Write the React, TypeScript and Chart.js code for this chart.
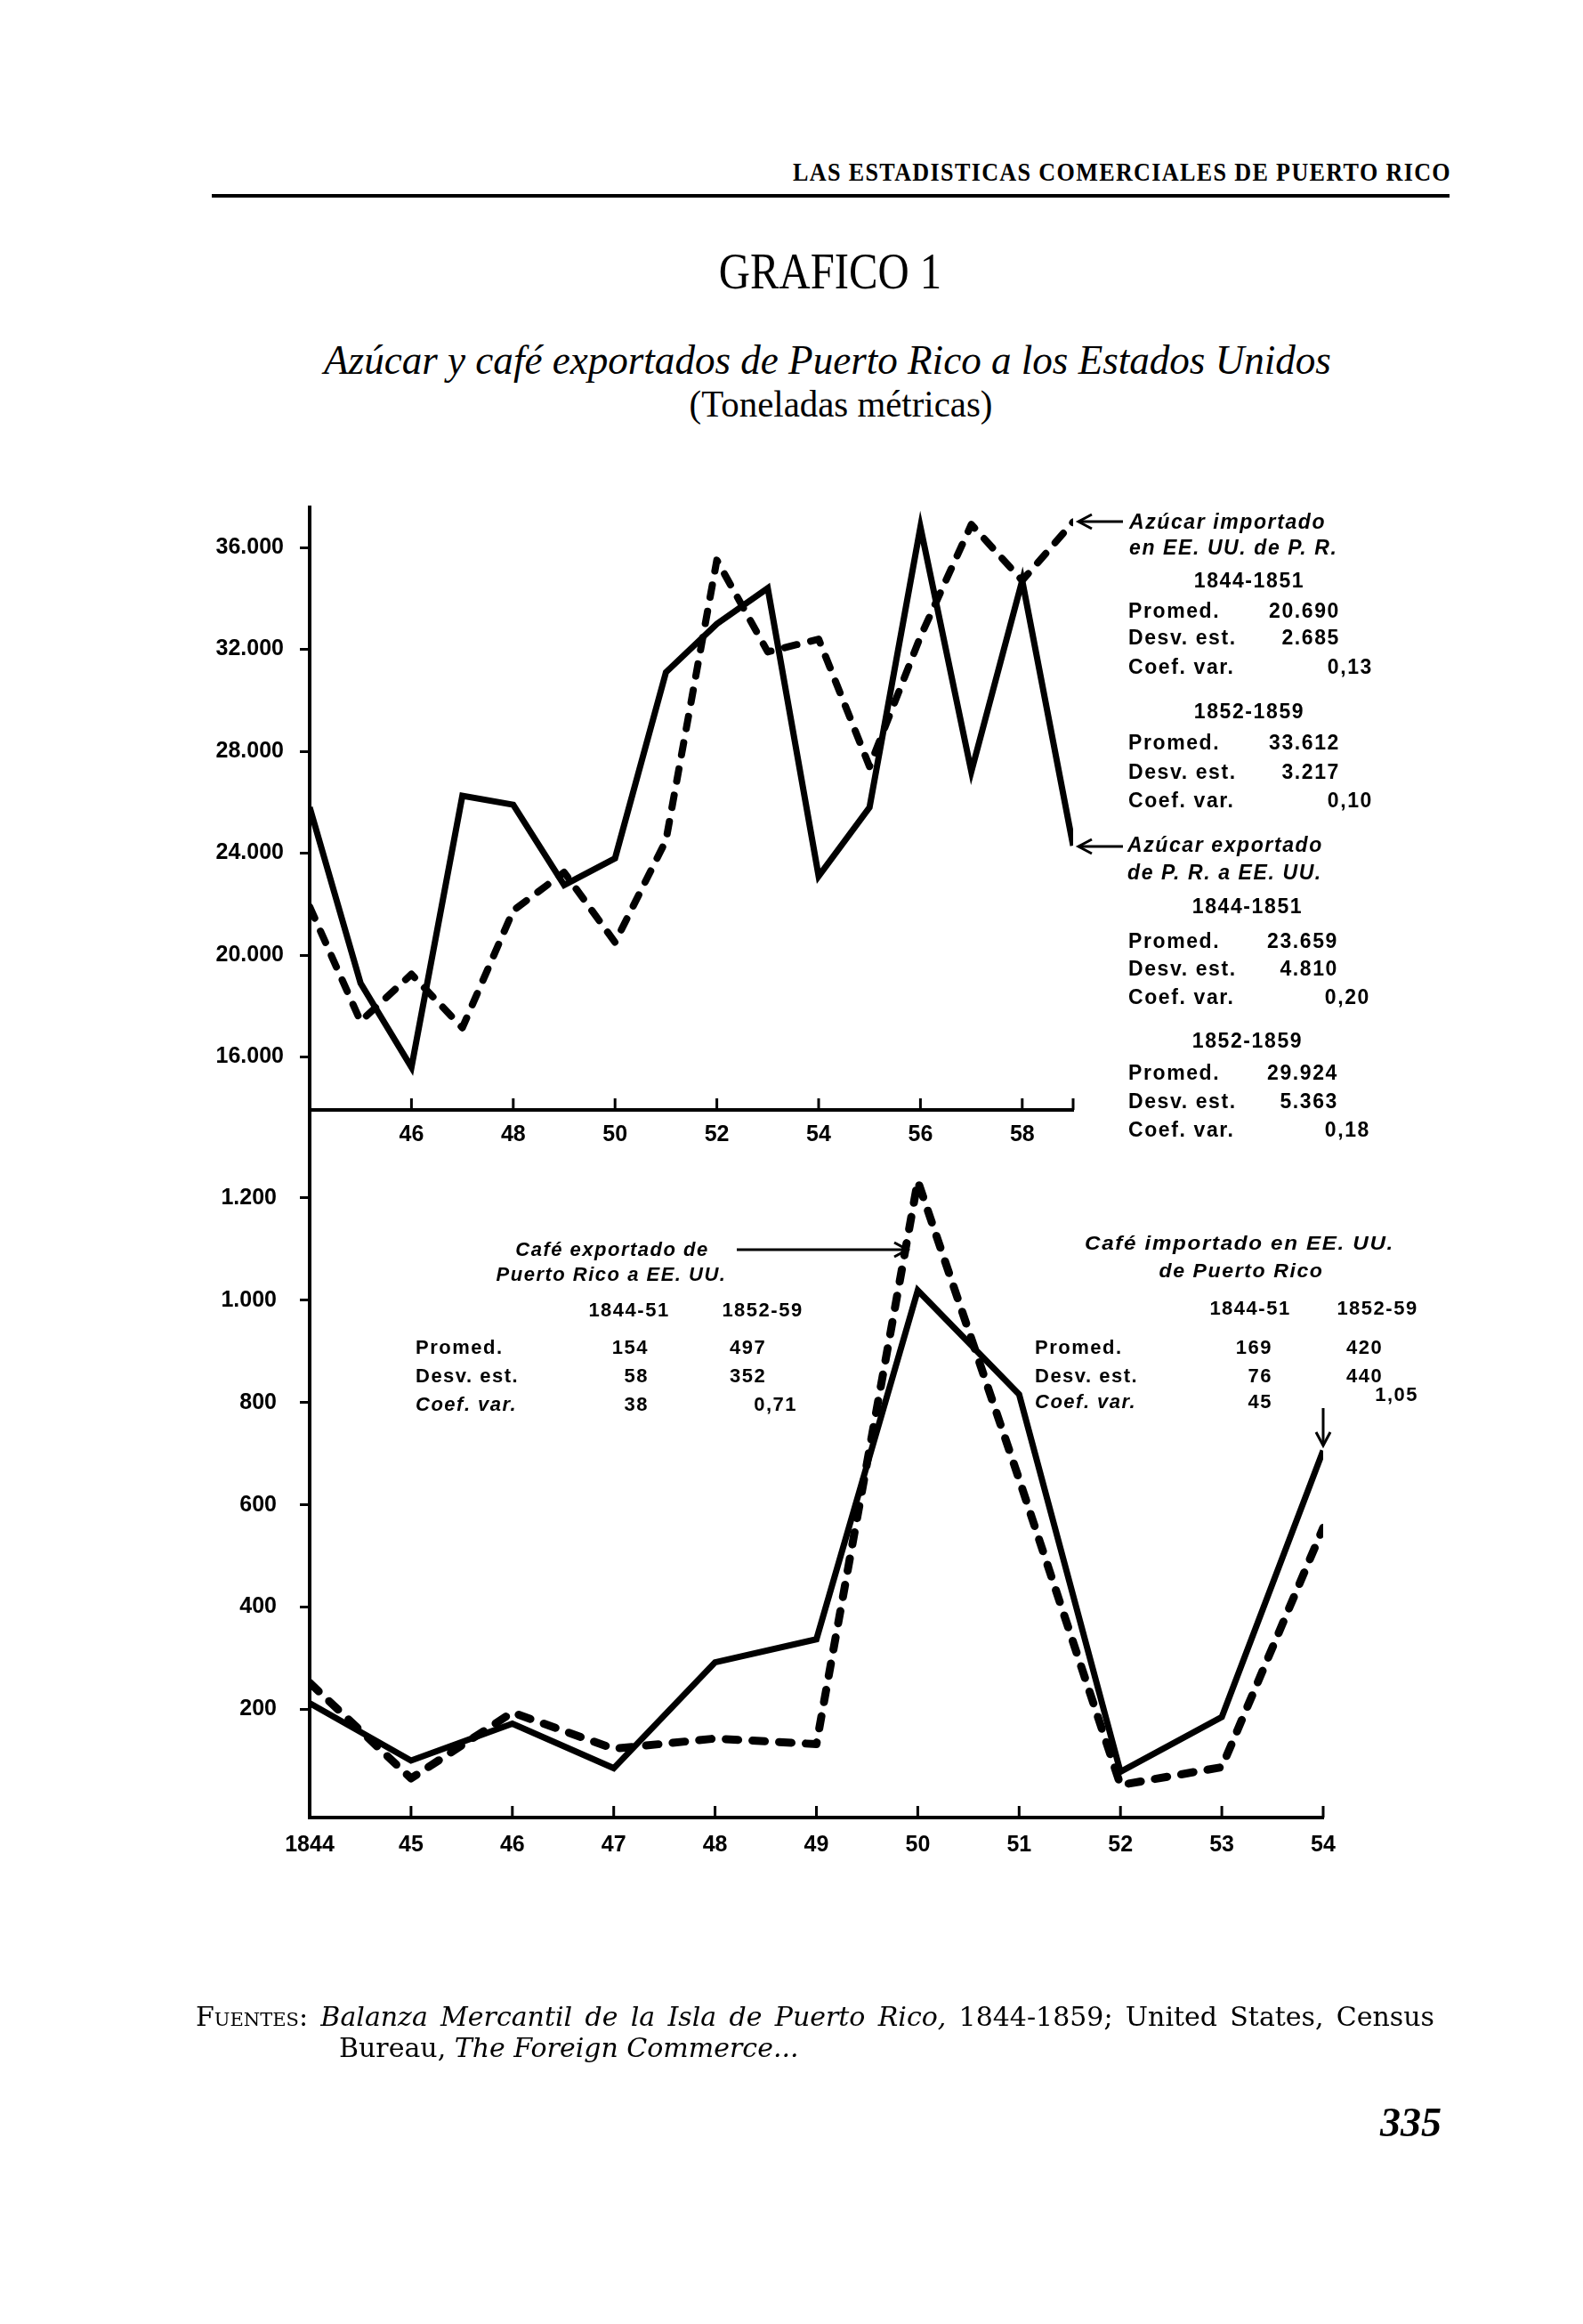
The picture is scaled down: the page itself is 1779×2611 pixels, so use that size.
import React, { useEffect, useRef } from 'react';
import { Chart, registerables } from 'chart.js';

Chart.register(...registerables);

// ---------- DATA ----------
const SUGAR_YEARS = [1844, 1845, 1846, 1847, 1848, 1849, 1850, 1851, 1852, 1853, 1854, 1855, 1856, 1857, 1858, 1859];
// Azúcar exportado de P.R. a EE.UU. (solid)
const SUGAR_EXPORTED = [25800, 18900, 15600, 26250, 25900, 22750, 23800, 31100, 33000, 34400, 23100, 25800, 36800, 27200, 34700, 24300];
// Azúcar importado en EE.UU. de P.R. (dashed)
const SUGAR_IMPORTED = [21900, 17400, 19250, 17150, 21750, 23250, 20500, 24500, 35500, 31900, 32400, 27400, 32500, 36900, 34700, 37000];
const SUGAR_X_TICKS = [1846, 1848, 1850, 1852, 1854, 1856, 1858];
const SUGAR_X_MARKS = [1846, 1848, 1850, 1852, 1854, 1856, 1858, 1859];
const SUGAR_Y_TICKS = [16000, 20000, 24000, 28000, 32000, 36000];

const COFFEE_YEARS = [1844, 1845, 1846, 1847, 1848, 1849, 1850, 1851, 1852, 1853, 1854];
// Café importado en EE.UU. de Puerto Rico (solid)
const COFFEE_IMPORTED = [212, 100, 172, 85, 292, 337, 1019, 816, 78, 185, 706];
// Café exportado de Puerto Rico a EE.UU. (dashed)
const COFFEE_EXPORTED = [252, 65, 194, 123, 143, 132, 1233, 650, 52, 87, 555];
const COFFEE_X_TICKS = [1844, 1845, 1846, 1847, 1848, 1849, 1850, 1851, 1852, 1853, 1854];
const COFFEE_X_MARKS = [1845, 1846, 1847, 1848, 1849, 1850, 1851, 1852, 1853, 1854];
const COFFEE_Y_TICKS = [200, 400, 600, 800, 1000, 1200];

// ---------- HELPERS ----------
const fmtThousands = (v: number) => String(v).replace(/\B(?=(\d{3})+(?!\d))/g, '.');

const upTicksPlugin = {
  id: 'upTicks',
  afterDatasetsDraw(chart: any, _args: any, opts: any) {
    const { ctx, chartArea } = chart;
    const x = chart.scales.x;
    ctx.save();
    ctx.strokeStyle = '#000';
    ctx.lineWidth = 3;
    for (const v of opts.values || []) {
      const px = x.getPixelForValue(v);
      ctx.beginPath();
      ctx.moveTo(px, chartArea.bottom);
      ctx.lineTo(px, chartArea.bottom - 13);
      ctx.stroke();
    }
    ctx.restore();
  },
};

const TICK_FONT = { family: "'Liberation Sans', Arial, sans-serif", size: 25, weight: 'bold' as const };

const zeroPad = (s: any) => {
  s.paddingTop = 0;
  s.paddingBottom = 0;
  s.paddingLeft = 0;
  s.paddingRight = 0;
};

function makeConfig(p: any): any {
  return {
    type: 'line',
    data: {
      datasets: [
        {
          data: p.years.map((x: number, i: number) => ({ x, y: p.solid[i] })),
          borderColor: '#000',
          borderWidth: 7,
          pointRadius: 0,
          tension: 0,
          borderCapStyle: 'butt',
          borderJoinStyle: 'miter',
          fill: false,
        },
        {
          data: p.years.map((x: number, i: number) => ({ x, y: p.dashed[i] })),
          borderColor: '#000',
          borderWidth: p.dashWidth,
          borderDash: [14, 16],
          borderCapStyle: 'round',
          borderJoinStyle: 'round',
          pointRadius: 0,
          tension: 0,
          fill: false,
        },
      ],
    },
    options: {
      responsive: false,
      animation: false,
      events: [],
      layout: { padding: { top: 20, right: 30, left: 0, bottom: 0 } },
      plugins: {
        legend: { display: false },
        tooltip: { enabled: false },
        upTicks: { values: p.xMarks },
      },
      scales: {
        x: {
          type: 'linear',
          min: p.xMin,
          max: p.xMax,
          afterBuildTicks: (s: any) => {
            s.ticks = p.xTicks.map((v: number) => ({ value: v }));
          },
          afterFit: (s: any) => {
            s.height = 60;
            zeroPad(s);
          },
          grid: { display: true, drawOnChartArea: false, drawTicks: false },
          border: { display: true, color: '#000', width: 4 },
          ticks: {
            autoSkip: false,
            maxRotation: 0,
            minRotation: 0,
            padding: p.xPad,
            color: '#000',
            font: TICK_FONT,
            callback: p.xLabel,
          },
        },
        y: {
          type: 'linear',
          min: p.yMin,
          max: p.yMax,
          afterBuildTicks: (s: any) => {
            s.ticks = p.yTicks.map((v: number) => ({ value: v }));
          },
          afterFit: (s: any) => {
            s.width = 140;
            zeroPad(s);
          },
          grid: { display: true, drawOnChartArea: false, drawTicks: true, tickLength: 11, color: '#000', lineWidth: 3 },
          border: { display: true, color: '#000', width: 4 },
          ticks: {
            padding: p.yPad,
            color: '#000',
            font: TICK_FONT,
            callback: (v: number) => fmtThousands(v),
          },
        },
      },
    },
    plugins: [upTicksPlugin],
  };
}

function ChartCanvas(props: { left: number; top: number; width: number; height: number; config: any }) {
  const ref = useRef<HTMLCanvasElement | null>(null);
  useEffect(() => {
    if (!ref.current) return;
    const chart = new Chart(ref.current, props.config);
    return () => chart.destroy();
  }, []);
  return (
    <canvas
      ref={ref}
      width={props.width}
      height={props.height}
      style={{ position: 'absolute', left: props.left, top: props.top, width: props.width, height: props.height }}
    />
  );
}

const T = (props: { x: number; y: number; a?: 'left' | 'center' | 'right'; s?: any; sx?: number; children: any }) => {
  const a = props.a || 'left';
  const tx = a === 'left' ? '0' : a === 'center' ? '-50%' : '-100%';
  const origin = a === 'left' ? 'left center' : a === 'center' ? 'center center' : 'right center';
  return (
    <div
      style={{
        position: 'absolute',
        left: props.x,
        top: props.y,
        transform: `translate(${tx}, -50%) scaleX(${props.sx || 1})`,
        transformOrigin: origin,
        whiteSpace: 'nowrap',
        lineHeight: 1,
        color: '#000',
        ...props.s,
      }}
    >
      {props.children}
    </div>
  );
};

const SANS = "'Liberation Sans', Arial, sans-serif";
const SERIF = "'Liberation Serif', 'Times New Roman', serif";
const FOOT_SERIF = "'DejaVu Serif', 'Liberation Serif', serif";
const ANN = { fontFamily: SANS, fontWeight: 700, fontSize: 23, letterSpacing: '1.6px' };
const ANN_IT = { ...ANN, fontStyle: 'italic' };
const ANN2 = { fontFamily: SANS, fontWeight: 700, fontSize: 22, letterSpacing: '1.5px' };
const ANN2_IT = { ...ANN2, fontStyle: 'italic' };

export default function App() {
  const sugarConfig = makeConfig({
    years: SUGAR_YEARS,
    solid: SUGAR_EXPORTED,
    dashed: SUGAR_IMPORTED,
    xMin: 1844,
    xMax: 1859,
    yMin: 13925,
    yMax: 37572,
    xTicks: SUGAR_X_TICKS,
    xMarks: SUGAR_X_MARKS,
    yTicks: SUGAR_Y_TICKS,
    xLabel: (v: number) => String(v % 100),
    dashWidth: 8,
    xPad: 13,
    yPad: 18,
  });
  const coffeeConfig = makeConfig({
    years: COFFEE_YEARS,
    solid: COFFEE_IMPORTED,
    dashed: COFFEE_EXPORTED,
    xMin: 1844,
    xMax: 1854,
    yMin: -11.5,
    yMax: 1372,
    xTicks: COFFEE_X_TICKS,
    xMarks: COFFEE_X_MARKS,
    yTicks: COFFEE_Y_TICKS,
    xLabel: (v: number) => (v === 1844 ? '1844' : String(v % 100)),
    dashWidth: 9,
    xPad: 16,
    yPad: 26,
  });

  const statRow = (y: number, label: string, value: string, right: number, style = ANN) => (
    <>
      <T x={1268} y={y} s={style}>{label}</T>
      <T x={right} y={y} a="right" s={style}>{value}</T>
    </>
  );

  return (
    <div style={{ position: 'absolute', left: 0, top: 0, width: 1779, height: 2611, background: '#fff', overflow: 'hidden' }}>
      {/* Running header */}
      <T x={1631} y={193} a="right" sx={0.9} s={{ fontFamily: SERIF, fontWeight: 700, fontSize: 29, letterSpacing: '1.5px' }}>
        LAS ESTADISTICAS COMERCIALES DE PUERTO RICO
      </T>
      <div style={{ position: 'absolute', left: 238, top: 218, width: 1391, height: 4, background: '#000' }} />

      {/* Titles */}
      <T x={933} y={305} a="center" sx={0.87} s={{ fontFamily: SERIF, fontSize: 56 }}>GRAFICO 1</T>
      <T x={930} y={405} a="center" sx={0.98} s={{ fontFamily: SERIF, fontSize: 46, fontStyle: 'italic' }}>
        Azúcar y café exportados de Puerto Rico a los Estados Unidos
      </T>
      <T x={945} y={453} a="center" sx={0.95} s={{ fontFamily: SERIF, fontSize: 43 }}>(Toneladas métricas)</T>

      {/* Charts */}
      <ChartCanvas left={208} top={550} width={1028} height={757} config={sugarConfig} />
      <ChartCanvas left={208} top={1227} width={1309} height={875} config={coffeeConfig} />

      {/* Arrows */}
      <svg style={{ position: 'absolute', left: 0, top: 0 }} width={1779} height={2611}>
        <g stroke="#000" strokeWidth={3} fill="none">
          <line x1={1212} y1={586} x2={1262} y2={586} />
          <polyline points="1227,578 1212,586 1227,594" />
          <line x1={1212} y1={951} x2={1262} y2={951} />
          <polyline points="1227,943 1212,951 1227,959" />
          <line x1={828} y1={1404} x2={1020} y2={1404} />
          <polyline points="1005,1396 1020,1404 1005,1412" />
          <line x1={1487} y1={1582} x2={1487} y2={1624} />
          <polyline points="1479,1609 1487,1624 1495,1609" />
        </g>
      </svg>

      {/* Sugar annotations */}
      <T x={1269} y={586} s={ANN_IT}>Azúcar importado</T>
      <T x={1269} y={615} s={ANN_IT}>en EE. UU. de P. R.</T>
      <T x={1404} y={652} a="center" s={ANN}>1844-1851</T>
      {statRow(686, 'Promed.', '20.690', 1506)}
      {statRow(716, 'Desv. est.', '2.685', 1506)}
      {statRow(749, 'Coef. var.', '0,13', 1543)}
      <T x={1404} y={799} a="center" s={ANN}>1852-1859</T>
      {statRow(834, 'Promed.', '33.612', 1506)}
      {statRow(867, 'Desv. est.', '3.217', 1506)}
      {statRow(899, 'Coef. var.', '0,10', 1543)}

      <T x={1267} y={949} s={ANN_IT}>Azúcar exportado</T>
      <T x={1267} y={980} s={ANN_IT}>de P. R. a EE. UU.</T>
      <T x={1402} y={1018} a="center" s={ANN}>1844-1851</T>
      {statRow(1057, 'Promed.', '23.659', 1504)}
      {statRow(1088, 'Desv. est.', '4.810', 1504)}
      {statRow(1120, 'Coef. var.', '0,20', 1540)}
      <T x={1402} y={1169} a="center" s={ANN}>1852-1859</T>
      {statRow(1205, 'Promed.', '29.924', 1504)}
      {statRow(1237, 'Desv. est.', '5.363', 1504)}
      {statRow(1269, 'Coef. var.', '0,18', 1540)}

      {/* Coffee exported annotation */}
      <T x={688} y={1404} a="center" s={ANN2_IT}>Café exportado de</T>
      <T x={687} y={1432} a="center" s={ANN2_IT}>Puerto Rico a EE. UU.</T>
      <T x={707} y={1472} a="center" s={ANN2}>1844-51</T>
      <T x={857} y={1472} a="center" s={ANN2}>1852-59</T>
      <T x={467} y={1514} s={ANN2}>Promed.</T>
      <T x={729} y={1514} a="right" s={ANN2}>154</T>
      <T x={820} y={1514} s={ANN2}>497</T>
      <T x={467} y={1546} s={ANN2}>Desv. est.</T>
      <T x={729} y={1546} a="right" s={ANN2}>58</T>
      <T x={820} y={1546} s={ANN2}>352</T>
      <T x={467} y={1578} s={ANN2_IT}>Coef. var.</T>
      <T x={729} y={1578} a="right" s={ANN2}>38</T>
      <T x={896} y={1578} a="right" s={ANN2}>0,71</T>

      {/* Coffee imported annotation */}
      <T x={1393} y={1397} a="center" sx={1.1} s={ANN2_IT}>Café importado en EE. UU.</T>
      <T x={1395} y={1428} a="center" sx={1.05} s={ANN2_IT}>de Puerto Rico</T>
      <T x={1405} y={1470} a="center" s={ANN2}>1844-51</T>
      <T x={1548} y={1470} a="center" s={ANN2}>1852-59</T>
      <T x={1163} y={1514} s={ANN2}>Promed.</T>
      <T x={1430} y={1514} a="right" s={ANN2}>169</T>
      <T x={1513} y={1514} s={ANN2}>420</T>
      <T x={1163} y={1546} s={ANN2}>Desv. est.</T>
      <T x={1430} y={1546} a="right" s={ANN2}>76</T>
      <T x={1513} y={1546} s={ANN2}>440</T>
      <T x={1163} y={1575} s={ANN2_IT}>Coef. var.</T>
      <T x={1430} y={1575} a="right" s={ANN2}>45</T>
      <T x={1594} y={1567} a="right" s={ANN2}>1,05</T>

      {/* Footer */}
      <div
        style={{
          position: 'absolute',
          left: 220,
          top: 2248,
          width: 1392,
          fontFamily: FOOT_SERIF,
          fontSize: 30,
          lineHeight: '36px',
          textAlign: 'justify',
          textAlignLast: 'justify',
          whiteSpace: 'nowrap',
          color: '#000',
        }}
      >
        <span style={{ fontVariant: 'small-caps' }}>Fuentes:</span> <i>Balanza Mercantil de la Isla de Puerto Rico,</i> 1844-1859; United States, Census
      </div>
      <div
        style={{
          position: 'absolute',
          left: 381,
          top: 2283,
          fontFamily: FOOT_SERIF,
          fontSize: 30,
          lineHeight: '36px',
          whiteSpace: 'nowrap',
          color: '#000',
        }}
      >
        Bureau, <i>The Foreign Commerce...</i>
      </div>
      <T x={1620} y={2385} a="right" s={{ fontFamily: SERIF, fontSize: 46, fontStyle: 'italic', fontWeight: 700 }}>335</T>
    </div>
  );
}
